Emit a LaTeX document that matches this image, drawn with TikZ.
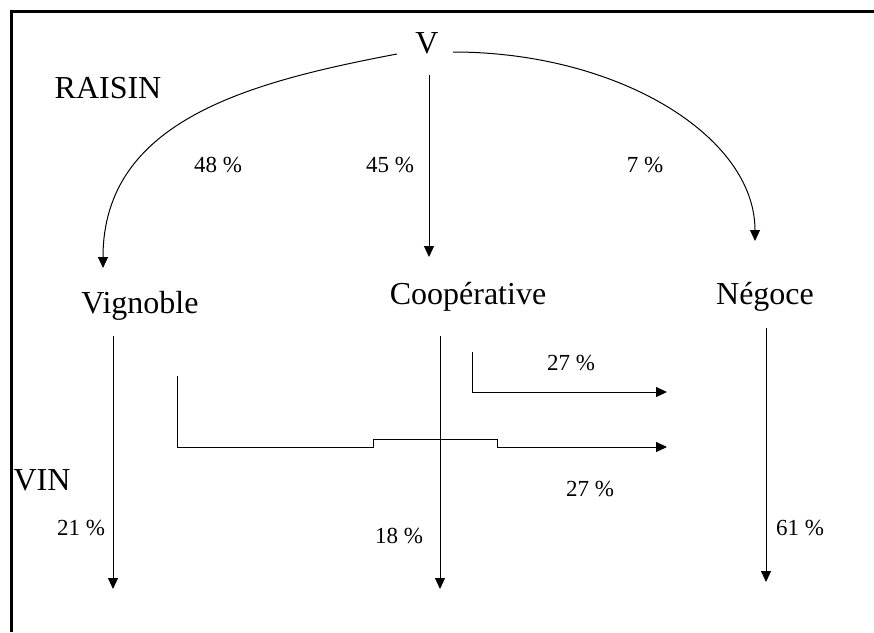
\documentclass[tikz,border=0pt]{standalone}
\usepackage{fontspec}
\setmainfont{Liberation Serif}
\usetikzlibrary{arrows.meta}
\begin{document}
\begin{tikzpicture}[x=1pt,y=-1pt,
  big/.style={font=\fontsize{32}{38}\selectfont, inner sep=0pt, anchor=base},
  pct/.style={font=\fontsize{23}{28}\selectfont, inner sep=0pt, anchor=base},
  arr/.style={line width=1pt, -{Triangle[length=11pt,width=10pt]}},
  link/.style={line width=1pt}]
\useasboundingbox (0,0) rectangle (874,632);
\draw[line width=3pt] (874,11.5) -- (11.5,11.5) -- (11.5,632);

% texts
\node[big] (V) at (427,53) {V};
\node[big] (raisin) at (108,98) {RAISIN};
\node[big] (vig) at (140,313) {Vignoble};
\node[big] (coop) at (468,304) {Coopérative};
\node[big] (neg) at (765,304) {Négoce};
\node[big] (vin) at (42,490) {VIN};
\node[pct] (p48) at (218,172) {48 \%};
\node[pct] (p45) at (390,172) {45 \%};
\node[pct] (p7) at (645,172) {7 \%};
\node[pct] (p27a) at (571,370) {27 \%};
\node[pct] (p27b) at (590,496) {27 \%};
\node[pct] (p21) at (81,535) {21 \%};
\node[pct] (p18) at (399,543) {18 \%};
\node[pct] (p61) at (800,535) {61 \%};

% connector ends
\coordinate (vL) at (397,54);
\coordinate (vR) at (453,52);
\coordinate (vD) at (429,75);
\coordinate (vigT) at (103,268);
\coordinate (coopT) at (429,257);
\coordinate (negT) at (755,241);
\coordinate (vigB) at (113,336);
\coordinate (vigE) at (113,589);
\coordinate (coopB) at (440,336);
\coordinate (coopE) at (440,589);
\coordinate (negB) at (766,328);
\coordinate (negE) at (766,582);
\coordinate (b1s) at (177,376);
\coordinate (b1e) at (667,447);
\coordinate (b2s) at (472,352);
\coordinate (b2e) at (667,392);

% RAISIN flows
\draw[arr] (vL) .. controls (250,82) and (103,120) .. (vigT);
\draw[arr] (vD) -- (coopT);
\draw[arr] (vR) .. controls (618,52) and (755,136) .. (negT);

% VIN flows
\draw[arr] (vigB) -- (vigE);
\draw[arr] (coopB) -- (coopE);
\draw[arr] (negB) -- (negE);
\draw[arr] (b1s) -- (177,447) -- (373,447) -- (373,439) -- (497,439) -- (497,447) -- (b1e);
\draw[arr] (b2s) -- (472,392) -- (b2e);
\end{tikzpicture}
\end{document}
